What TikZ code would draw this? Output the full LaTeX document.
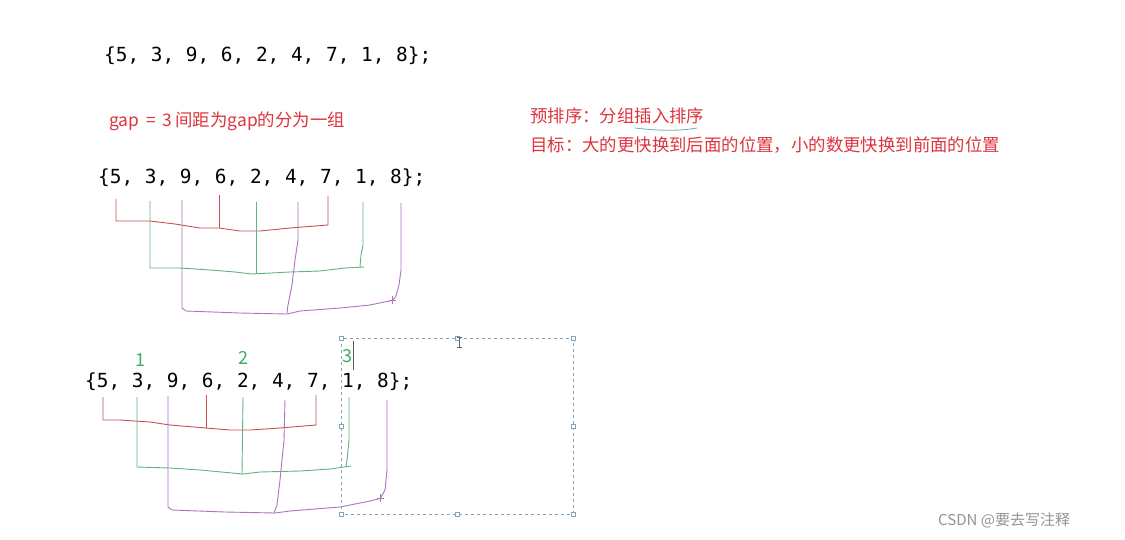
\documentclass[tikz,border=0pt]{standalone}
\usepackage{fontspec}
\newfontfamily\cjk{Noto Sans CJK SC}
\newfontfamily\arr{DejaVu Sans Mono}
\definecolor{hred}{RGB}{200,80,85}
\definecolor{hgreen}{RGB}{95,180,125}
\definecolor{hpurple}{RGB}{175,115,190}
\definecolor{tred}{RGB}{222,52,62}
\definecolor{tgreen}{RGB}{60,175,95}
\definecolor{selc}{RGB}{135,165,185}
\definecolor{ulc}{RGB}{110,175,165}
\begin{document}
\begin{tikzpicture}[x=1pt,y=-1pt,
  arraytxt/.style={anchor=base west,inner sep=0pt,font=\arr\fontsize{19.4}{20}\selectfont},
  redtxt/.style={anchor=west,inner sep=0pt,text=tred,font=\cjk\fontsize{17.4}{18}\selectfont},
  numlbl/.style={inner sep=0pt,text=tgreen,font=\cjk\fontsize{18}{18}\selectfont},
  rline/.style={draw=hred,line width=0.9pt,line join=round},
  gline/.style={draw=hgreen,line width=0.9pt,line join=round},
  pline/.style={draw=hpurple,line width=0.9pt,line join=round},
  handle/.style={draw=selc,fill=white,line width=0.5pt,minimum size=4pt,inner sep=0pt},
  selbox/.style={draw=selc,dashed,line width=0.8pt}]
\useasboundingbox (0,0) rectangle (1125,539);
\fill[white] (0,0) rectangle (1125,539);

% arrays
\node[arraytxt] (arrA) at (104,61) {\{5, 3, 9, 6, 2, 4, 7, 1, 8\};};
\node[arraytxt] (arrB) at (98,183) {\{5, 3, 9, 6, 2, 4, 7, 1, 8\};};
\node[arraytxt] (arrC) at (85,387) {\{5, 3, 9, 6, 2, 4, 7, 1, 8\};};

% red notes
\node[redtxt] (gap) at (109,121) {gap\hspace{7pt}=\hspace{7pt}3\hspace{3pt}间距为gap的分为一组};
\node[redtxt] (pre) at (530,116) {预排序：分组插入排序};
\node[redtxt] (goal) at (530,145) {目标：大的更快换到后面的位置，小的数更快换到前面的位置};
\draw[ulc,line width=0.8pt] (635,128) .. controls (660,131) and (680,131) .. (697,128);

% middle array brackets
\draw[rline] (116,199) -- (116,221) -- (150,221) -- (175,224) -- (200,228) -- (219,228) -- (240,231) -- (260,231) -- (290,228) -- (328,225) -- (328,196);
\draw[rline] (219,195) -- (219,228);
\draw[gline] (150,201) -- (150,268) -- (180,268) -- (210,270) -- (235,272) -- (252,274) -- (290,272) -- (320,271) -- (345,268) -- (364,267);
\draw[gline] (360,267) -- (361,255) -- (363,245) -- (363,202);
\draw[gline] (256,202) -- (256,274);
\draw[pline] (182,200) -- (182,308) -- (186,311) -- (240,313) -- (287,314) -- (300,311) -- (340,308) -- (370,305) -- (394,300);
\draw[pline] (298,202) -- (298,240) -- (295,260) -- (292,285) -- (288,305) -- (287,313);
\draw[pline] (401,203) -- (401,270) -- (399,285) -- (396,296) -- (393,300);
\draw[pline,line width=0.5pt] (389,300) -- (396,300) (392,296) -- (392,304);

% bottom array brackets
\draw[rline] (103,397) -- (103,420) -- (120,420) -- (150,422) -- (170,425) -- (206,428) -- (230,430) -- (250,430) -- (280,428) -- (316,425) -- (316,395);
\draw[rline] (206,395) -- (206,428);
\draw[gline] (137,397) -- (137,467) -- (170,468) -- (200,470) -- (232,473) -- (243,474) -- (260,472) -- (300,471) -- (330,469) -- (351,466);
\draw[gline] (346,467) -- (347,460) -- (349,440) -- (349,397);
\draw[gline] (243,397) -- (242,474);
\draw[pline] (168,396) -- (168,507) -- (172,510) -- (225,512) -- (275,513) -- (290,511) -- (340,507) -- (370,501) -- (382,498);
\draw[pline] (285,400) -- (284,440) -- (280,480) -- (277,505) -- (274,513);
\draw[pline] (387,400) -- (387,470) -- (385,490) -- (381,497);
\draw[pline,line width=0.5pt] (377,498) -- (384,498) (380,494) -- (380,502);

% group numbers
\node[numlbl] (n1) at (140,360) {1};
\node[numlbl] (n2) at (243,358) {2};
\node[numlbl] (n3) at (347,356) {3};
\draw[gray!70!black,line width=0.6pt] (353,341) -- (353,370);

% selection box
\draw[selbox] (341,338) rectangle (573,514);
\foreach \p in {(341,338),(457,338),(573,338),(341,426),(573,426),(341,514),(457,514),(573,514)}
  \node[handle] at \p {};
\draw[gray!80!black,line width=0.6pt] (459,337) -- (459,347) (456.5,337) -- (461.5,337) (456.5,347) -- (461.5,347);

% watermark
\node[anchor=west,inner sep=0pt,text=black!42,font=\cjk\fontsize{15}{16}\selectfont] (wm) at (938,520) {CSDN @要去写注释};
\end{tikzpicture}
\end{document}
